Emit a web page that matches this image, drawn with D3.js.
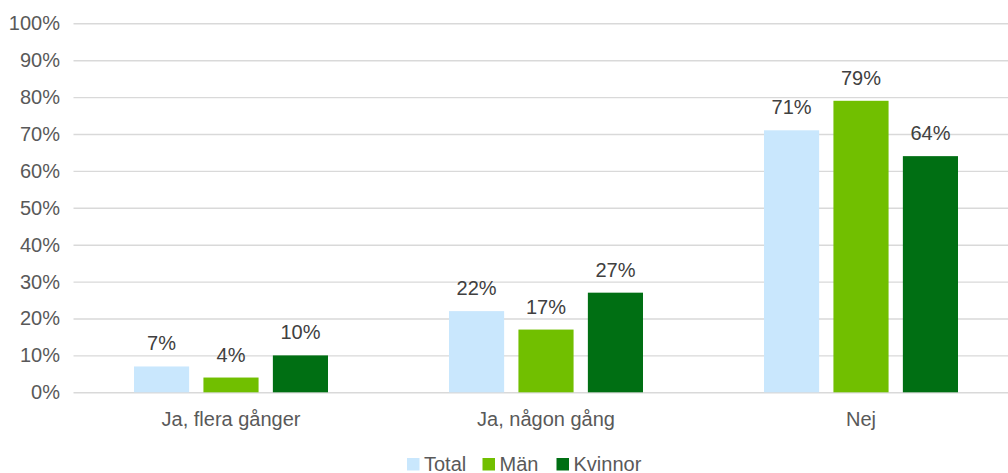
<!DOCTYPE html>
<html>
<head>
<meta charset="utf-8">
<script src="https://cdn.jsdelivr.net/npm/d3@7"></script>
<style>
  html, body { margin: 0; padding: 0; background: #fff; }
  svg { display: block; font-family: "Liberation Sans", Arial, sans-serif; }
</style>
</head>
<body>
<svg id="chart" width="1008" height="473"></svg>
<script>
// Survey answers by group
const categories = ["Ja, flera gånger", "Ja, någon gång", "Nej"];
const seriesNames = ["Total", "Män", "Kvinnor"];
const totalValues = [0.07, 0.22, 0.71];
const manValues = [0.04, 0.17, 0.79];
const kvinnorValues = [0.10, 0.27, 0.64];
const yTicks = [0, 0.1, 0.2, 0.3, 0.4, 0.5, 0.6, 0.7, 0.8, 0.9, 1.0];

const seriesValues = [totalValues, manValues, kvinnorValues];
const colors = ["#c9e7fd", "#71bf00", "#006f13"];
const textColor = "#595959";

const svg = d3.select("#chart");

const y = d3.scaleLinear().domain([0, 1]).range([392.3, 23.3]);
const x0 = d3.scaleBand().domain(categories).range([73.5, 1018.5]).padding(0);
const x1 = d3.scaleBand().domain(seriesNames).range([60.5, 254.5]).paddingInner(0.206).paddingOuter(0);
const color = d3.scaleOrdinal().domain(seriesNames).range(colors);
const pct = d3.format(".0%");

// Horizontal gridlines and y-axis labels
const yAxis = d3.axisLeft(y)
  .tickValues(yTicks)
  .tickFormat(pct)
  .tickSize(-(1008 - 73.5))
  .tickPadding(13.5);

const gy = svg.append("g")
  .attr("transform", "translate(73.5,0)")
  .call(yAxis);
gy.select(".domain").remove();
gy.selectAll(".tick line").attr("stroke", "#d9d9d9").attr("stroke-width", 1.4);
gy.selectAll(".tick text")
  .attr("fill", textColor)
  .style("font-size", "20px")
  .style("font-family", "'Liberation Sans', Arial, sans-serif");

// Bars
const rows = categories.map((c, i) => ({
  category: c,
  values: seriesNames.map((s, j) => ({ series: s, value: seriesValues[j][i] }))
}));

const groups = svg.append("g").selectAll("g")
  .data(rows)
  .join("g")
  .attr("transform", d => `translate(${x0(d.category)},0)`);

groups.selectAll("rect")
  .data(d => d.values)
  .join("rect")
  .attr("x", d => x1(d.series))
  .attr("y", d => y(d.value))
  .attr("width", x1.bandwidth())
  .attr("height", d => y(0) - y(d.value))
  .attr("fill", d => color(d.series));

// Value labels
groups.selectAll("text")
  .data(d => d.values)
  .join("text")
  .attr("x", d => x1(d.series) + x1.bandwidth() / 2)
  .attr("y", d => y(d.value) - 16)
  .attr("text-anchor", "middle")
  .attr("fill", "#404040")
  .style("font-size", "20px")
  .text(d => pct(d.value));

// Category labels
const xAxis = d3.axisBottom(x0).tickSize(0).tickPadding(20);
const gx = svg.append("g")
  .attr("transform", `translate(0,${y(0)})`)
  .call(xAxis);
gx.select(".domain").remove();
gx.selectAll(".tick text")
  .attr("fill", textColor)
  .style("font-size", "20px")
  .style("font-family", "'Liberation Sans', Arial, sans-serif");

// Legend
const legendX = [407, 482.5, 556.5];
const legend = svg.append("g").selectAll("g")
  .data(seriesNames)
  .join("g")
  .attr("transform", (d, i) => `translate(${legendX[i]},458)`);
legend.append("rect")
  .attr("width", 12.5)
  .attr("height", 12.5)
  .attr("fill", d => color(d));
legend.append("text")
  .attr("x", 17)
  .attr("y", 13)
  .attr("fill", textColor)
  .style("font-size", "20px")
  .text(d => d);
</script>
</body>
</html>
